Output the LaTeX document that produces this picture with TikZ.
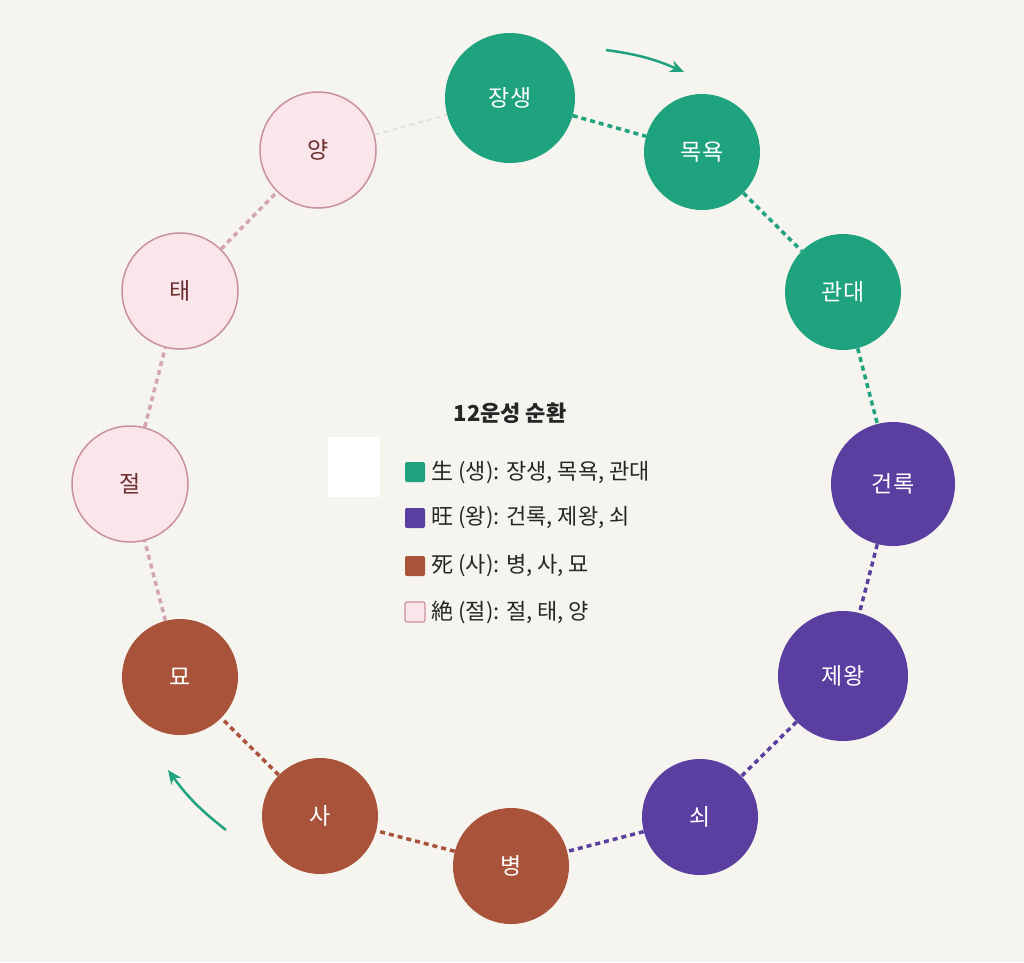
\documentclass[tikz,border=0pt]{standalone}
\usepackage{fontspec}
\setmainfont{Noto Sans CJK KR}
\usetikzlibrary{arrows.meta}
\definecolor{bg}{HTML}{F5F4EE}
\definecolor{teal}{HTML}{1FA37F}
\definecolor{purp}{HTML}{5B3FA0}
\definecolor{brn}{HTML}{A9543A}
\definecolor{pinkf}{HTML}{FAE6EA}
\definecolor{pinkd}{HTML}{C9909E}
\definecolor{pinkt}{HTML}{6B2E2E}
\tikzset{
 st/.style={circle,minimum size=116pt,inner sep=0pt,font=\fontsize{23}{23}\selectfont},
 gs/.style={st,fill=teal,text=white},
 ws/.style={st,fill=purp,text=white},
 ss/.style={st,fill=brn,text=white},
 js/.style={st,fill=pinkf,draw=pinkd,line width=1.5pt,text=pinkt},
 lk/.style={line width=3.5pt,dash pattern=on 5pt off 4pt},
 lg/.style={minimum size=20pt,inner sep=0pt,rounded corners=2pt},
 lt/.style={anchor=west,font=\fontsize{22}{22}\selectfont,text=black!85}
}
\begin{document}
\begin{tikzpicture}[x=1pt,y=-1pt]
\fill[bg] (0,0) rectangle (1024,962);
\useasboundingbox (0,0) rectangle (1024,962);
\node[gs,minimum size=130pt] (a) at (510,98) {장생};
\node[gs] (b) at (702,152) {목욕};
\node[gs] (c) at (843,292) {관대};
\node[ws,minimum size=124pt] (d) at (893,484) {건록};
\node[ws,minimum size=130pt] (e) at (843,676) {제왕};
\node[ws] (f) at (700,817) {쇠};
\node[ss] (g) at (511,866) {병};
\node[ss] (h) at (320,816) {사};
\node[ss] (i) at (180,677) {묘};
\node[js] (j) at (130,484) {절};
\node[js] (k) at (180,291) {태};
\node[js] (l) at (318,150) {양};
\draw[lk,teal] (a)--(b); \draw[lk,teal] (b)--(c); \draw[lk,teal] (c)--(d);
\draw[lk,purp] (d)--(e); \draw[lk,purp] (e)--(f); \draw[lk,purp] (f)--(g);
\draw[lk,brn] (g)--(h); \draw[lk,brn] (h)--(i);
\draw[lk,pinkd!80] (i)--(j); \draw[lk,pinkd!80] (j)--(k); \draw[lk,pinkd!80] (k)--(l);
\draw[line width=2pt,dash pattern=on 5pt off 4pt,black!12] (l)--(a);
\coordinate (t1) at (606,50); \coordinate (t2) at (684,72);
\draw[teal,line width=2.5pt,-{Stealth[length=14pt,width=12pt]}] (t1) to[bend left=8] (t2);
\coordinate (u1) at (226,830); \coordinate (u2) at (168,770);
\draw[teal,line width=2.5pt,-{Stealth[length=14pt,width=12pt]}] (u1) to[bend left=8] (u2);
\node[font=\fontsize{22}{22}\selectfont\bfseries,text=black!85] (title) at (510,413) {12운성 순환};
\fill[white] (328,437) rectangle (380,497);
\node[lg,fill=teal] (q1) at (415,472) {}; \node[lt] (l1) at (428,472) {生 (생): 장생, 목욕, 관대};
\node[lg,fill=purp] (q2) at (415,518) {}; \node[lt] (l2) at (428,518) {旺 (왕): 건록, 제왕, 쇠};
\node[lg,fill=brn] (q3) at (415,566) {}; \node[lt] (l3) at (428,566) {死 (사): 병, 사, 묘};
\node[lg,fill=pinkf,draw=pinkd,line width=1.2pt] (q4) at (415,612) {}; \node[lt] (l4) at (428,612) {絶 (절): 절, 태, 양};
\end{tikzpicture}
\end{document}
